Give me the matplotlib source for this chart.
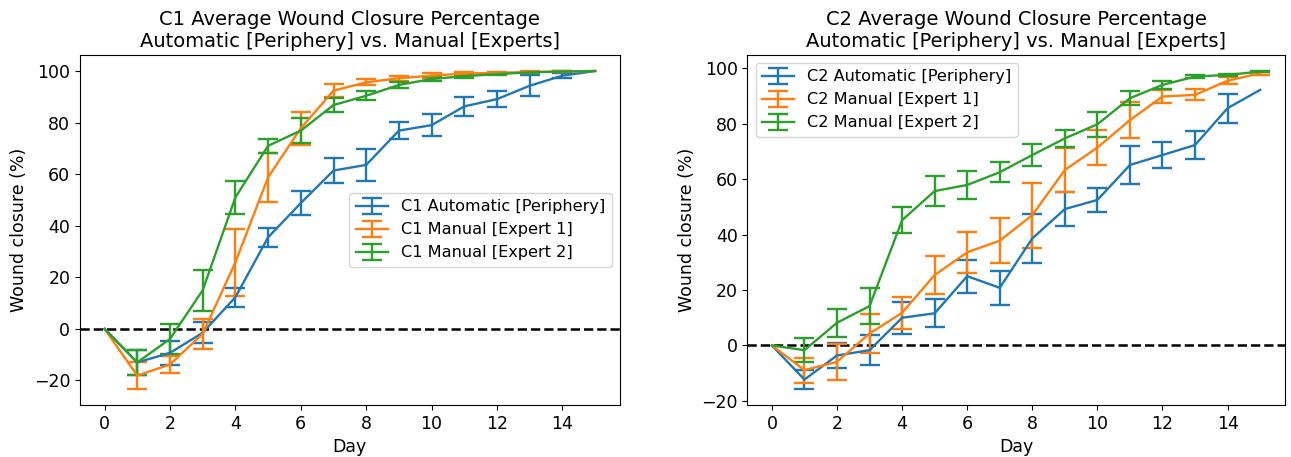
import numpy as np
import matplotlib
matplotlib.use("Agg")
import matplotlib.pyplot as plt

# Days 0..15
days = np.arange(16)
nan = np.nan

# C1 data (mean, std); nan = no error bar drawn
c1_auto = [0, -13, -9.3, -1.5, 12.3, 35.5, 48.8, 61.4, 63.6, 76.9, 79.0, 86.3, 89.1, 94.3, 98.2, 100]
c1_auto_err = [nan, 5, 4.6, 4, 3.7, 3.6, 4.5, 4.8, 6.1, 3.2, 4.3, 3.7, 3.2, 4, 1, nan]
c1_exp1 = [0, -18.1, -13.8, -1.9, 25.8, 58.8, 77.8, 92.4, 95.6, 97.2, 98.2, 99.0, 99.3, 99.6, 99.8, 100]
c1_exp1_err = [nan, 5.2, 3.2, 5.7, 12.9, 9.4, 6.3, 2.6, 1.2, 1, 1, 0.8, 0.5, 0.4, 0.3, nan]
c1_exp2 = [0, -13, -3.9, 15, 51, 71, 76.9, 86.8, 90.4, 94.6, 96.9, 98.0, 98.8, 99.5, 99.8, 100]
c1_exp2_err = [nan, 5, 5.7, 8, 6.5, 2.8, 5, 2.6, 1.8, 1, 0.8, 0.6, 0.5, 0.3, 0.2, nan]

# C2 data (mean, std)
c2_auto = [0, -12.3, -3.6, -1.7, 10.0, 11.6, 25.0, 20.8, 38.6, 49.2, 52.5, 65.1, 68.7, 72.3, 85.6, 92.2]
c2_auto_err = [nan, 3.4, 4.6, 5.4, 5.7, 5, 6, 6.1, 8.9, 6.2, 4.4, 6.8, 4.8, 5.1, 5.2, nan]
c2_exp1 = [0, -8.9, -5.9, 4.3, 11.8, 25.4, 33.6, 37.8, 47.0, 63.3, 71.4, 81.3, 89.8, 90.4, 95.5, 98.2]
c2_exp1_err = [nan, 4.5, 6.5, 7, 5.7, 6.8, 7.3, 8.1, 11.7, 8.1, 6.2, 6.6, 2.4, 2, 1.2, 0.5]
c2_exp2 = [0, -1.7, 8.2, 14.2, 45.2, 55.7, 57.9, 62.5, 68.7, 74.7, 79.8, 89.2, 94.0, 97.0, 97.6, 98.8]
c2_exp2_err = [nan, 4.3, 5, 6.5, 4.8, 5.3, 5.1, 3.6, 3.9, 3.1, 4.5, 2.6, 1.4, 0.5, 0.5, 0.3]

plt.rcParams['font.size'] = 12.5

fig = plt.figure(figsize=(12.91, 4.57), dpi=100)
ax1 = fig.add_axes([0.062, 0.114, 0.418, 0.766])
ax2 = fig.add_axes([0.579, 0.114, 0.416, 0.766])

style = dict(capsize=7, linewidth=1.7, elinewidth=1.7, capthick=1.7)

def draw(ax, name, auto, auto_err, e1, e1_err, e2, e2_err, loc):
    ax.errorbar(days, auto, yerr=auto_err, label=f'{name} Automatic [Periphery]', color='C0', **style)
    ax.errorbar(days, e1, yerr=e1_err, label=f'{name} Manual [Expert 1]', color='C1', **style)
    ax.errorbar(days, e2, yerr=e2_err, label=f'{name} Manual [Expert 2]', color='C2', **style)
    ax.axhline(0, color='k', linestyle='--', linewidth=1.8, zorder=0)
    ax.set_title(f'{name} Average Wound Closure Percentage\nAutomatic [Periphery] vs. Manual [Experts]', fontsize=14)
    ax.set_xlabel('Day')
    ax.set_ylabel('Wound closure (%)')
    ax.set_xticks(np.arange(0, 16, 2))
    ax.legend(loc=loc, fontsize=11.6)

draw(ax1, 'C1', c1_auto, c1_auto_err, c1_exp1, c1_exp1_err, c1_exp2, c1_exp2_err, 'center right')
draw(ax2, 'C2', c2_auto, c2_auto_err, c2_exp1, c2_exp1_err, c2_exp2, c2_exp2_err, 'upper left')

fig.savefig('out.png', dpi=100)
